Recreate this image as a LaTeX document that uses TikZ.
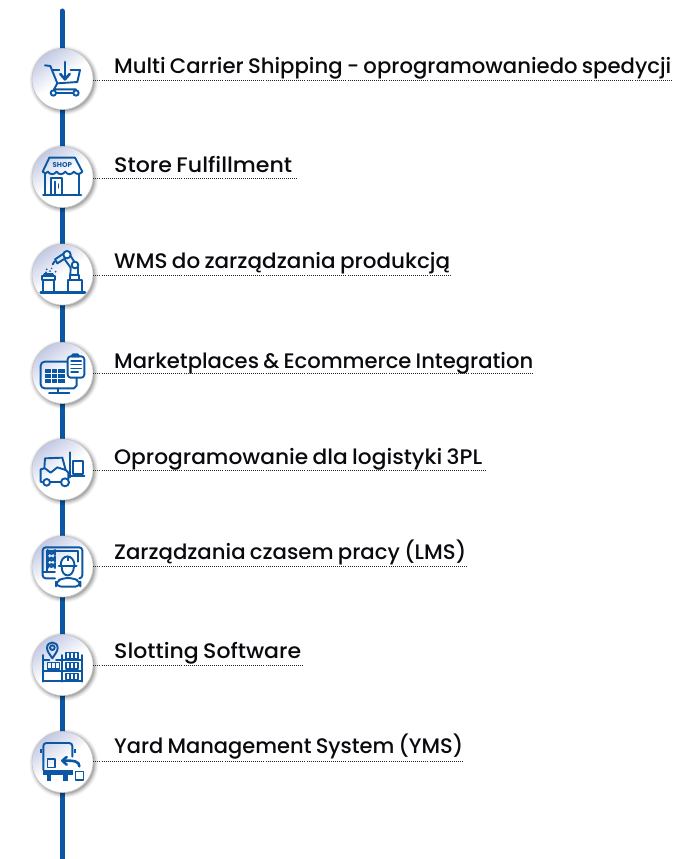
\documentclass[tikz,border=0pt]{standalone}
\usepackage{fontspec}
\usepackage{graphicx}
\setmainfont{Poppins}
\newfontfamily\labfont{Poppins Medium}
\usetikzlibrary{arrows.meta}
\definecolor{bl}{HTML}{0B57A4}
\definecolor{lav}{HTML}{C2C9E4}
\definecolor{ink}{HTML}{0A0A0E}
\newcommand{\lbl}[2]{\resizebox{#1pt}{\height}{\labfont\fontsize{21}{24}\selectfont\spaceskip=.2em\relax #2}}
\tikzset{
  spine/.style={line width=5pt,draw=bl,line cap=round},
  disc/.style={circle,minimum size=61pt,inner sep=0pt,draw=black!22,line width=.6pt,top color=lav,bottom color=white,middle color=white,shading angle=35},
  lab/.style={anchor=base west,inner sep=0pt,text=ink},
  leader/.style={draw=black!85,line width=.9pt,dash pattern=on .9pt off 1.15pt},
  ic/.style={draw=bl,line width=1.9pt,line join=round,line cap=round},
  thick ic/.style={ic,line width=2.6pt},
  thin ic/.style={ic,line width=1.2pt},
  crop/.style={x=.33333pt,y=-.33333pt,yshift=-#1pt},
}
\begin{document}
\begin{tikzpicture}[x=1pt,y=-1pt]
\useasboundingbox (0,0) rectangle (700,859);
\fill[white] (0,0) rectangle (700,859);
\coordinate (top) at (62,11);
\coordinate (bot) at (62,861);
\draw[spine] (top) -- (bot);
% shadows
\foreach \cy in {79,177,274.5,373,469.5,566.5,665,762}{
  \foreach \r/\o in {34.5/.04,33.5/.05,32.5/.07,31.5/.09,30.5/.12}{
    \fill[black,opacity=\o] (64,\cy+1.5) circle[radius=\r];
  }
}
\node[disc] (c1) at (62.5,79) {};
\node[disc] (c2) at (62.5,177) {};
\node[disc] (c3) at (62.5,274.5) {};
\node[disc] (c4) at (62.5,373) {};
\node[disc] (c5) at (62.5,469.5) {};
\node[disc] (c6) at (62.5,566.5) {};
\node[disc] (c7) at (62.5,665) {};
\node[disc] (c8) at (62.5,762) {};
% labels
\node[lab] (t1) at (114,73.5) {\lbl{557}{Multi Carrier Shipping - oprogramowaniedo spedycji}};
\node[lab] (t2) at (114,172.5) {\lbl{178}{Store Fulfillment}};
\node[lab] (t3) at (114,268.5) {\lbl{336}{WMS do zarządzania produkcją}};
\node[lab] (t4) at (114,368.5) {\lbl{419}{Marketplaces \& Ecommerce Integration}};
\node[lab] (t5) at (114,464.5) {\lbl{368}{Oprogramowanie dla logistyki 3PL}};
\node[lab] (t6) at (114,559.5) {\lbl{352}{Zarządzania czasem pracy (LMS)}};
\node[lab] (t7) at (114,658.5) {\lbl{187}{Slotting Software}};
\node[lab] (t8) at (114,753.5) {\lbl{349}{Yard Management System (YMS)}};
% leaders
\coordinate (e1) at (672,80.5);
\coordinate (e2) at (297,178);
\coordinate (e3) at (451,275.7);
\coordinate (e4) at (534,373.7);
\coordinate (e5) at (485,470);
\coordinate (e6) at (467,566.3);
\coordinate (e7) at (304,665);
\coordinate (e8) at (464,761.7);
\foreach \i in {1,...,8}{
  \draw[leader] (c\i.east |- e\i) -- (e\i);
}
% icon 1: cart
\begin{scope}[crop=0]
\draw[ic] (135,196) -- (151,198) -- (172,250) -- (232,246) -- (240,210) -- (212,210);
\draw[ic] (158,210) -- (178,210);
\draw[ic] (172,250) -- (162,268) -- (228,268);
\draw[ic] (160,279) circle[radius=8];
\draw[ic] (228,279) circle[radius=8];
\draw[ic] (168,279) -- (220,279);
\draw[thick ic] (195,186) -- (195,236);
\draw[thick ic] (181,222) -- (195,238) -- (209,222);
\end{scope}
% icon 2: shop
\begin{scope}[crop=0]
\draw[ic] (148,473) -- (225,473) -- (247,515) .. controls (240,524) and (228,524) .. (222,515) .. controls (214,525) and (202,525) .. (196,515) .. controls (188,525) and (176,525) .. (170,515) .. controls (162,525) and (150,525) .. (144,515) .. controls (140,522) and (132,522) .. (128,515) -- cycle;
\node[inner sep=0pt,text=bl] (shop) at (187,494) {\fontsize{7}{8}\selectfont\bfseries SHOP};
\draw[ic] (136,522) -- (136,585);
\draw[ic] (238,522) -- (238,585);
\draw[thick ic] (130,585) -- (243,585);
\draw[ic] (153,585) -- (153,535) -- (187,535) -- (187,585);
\draw[ic] (164,585) -- (164,545) ;
\draw[thin ic] (175,552) -- (175,564);
\end{scope}
% icon 3: robot
\begin{scope}[crop=220]
\draw[thick ic] (122,218) -- (255,218);
\draw[ic] (203,218) -- (203,180) -- (245,180) -- (245,218);
\draw[ic] (209,180) -- (209,165) -- (238,165) -- (238,180);
\draw[ic] (211,165) -- (212,143) -- (194,118);
\draw[ic] (234,165) -- (234,143) -- (212,108);
\draw[ic,fill=white] (225,135) circle[radius=10];
\draw[ic,fill=white] (201,104) circle[radius=11];
\draw[ic] (192,100) -- (165,118) -- (172,130) -- (197,114);
\draw[ic] (163,125) -- (158,133);
\draw[ic] (128,218) -- (128,180) -- (163,180) -- (163,218);
\draw[ic] (126,180) -- (126,168) -- (166,168) -- (166,180);
\draw[thick ic] (133,163) -- (158,163);
\fill[bl] (140,148) circle[radius=3] (150,153) circle[radius=3] (138,157) circle[radius=3] (167,155) circle[radius=3] (155,145) circle[radius=2.5];
\end{scope}
% icon 4: monitor + clipboard
\begin{scope}[crop=220]
\draw[ic,rounded corners=4pt] (203,505) -- (122,505) -- (122,425) -- (205,425);
\fill[bl] (134,447) rectangle (195,490);
\draw[draw=white,line width=.9pt] (134,460) -- (195,460) (134,475) -- (195,475) (153,447) -- (153,490) (173,447) -- (173,490);
\draw[ic] (175,505) -- (175,518);
\draw[ic] (147,519) -- (208,519);
\draw[ic] (230,473) -- (230,497) -- (222,505) -- (203,505);
\draw[ic,rounded corners=3pt,fill=white] (203,409) rectangle (253,473);
\draw[ic,fill=white] (215,409) -- (219,403) -- (233,403) -- (237,409) -- cycle;
\draw[thin ic] (213,423) -- (244,423) (213,434) -- (244,434) (213,445) -- (244,445) (213,456) -- (235,456);
\end{scope}
% icon 5: forklift
\begin{scope}[crop=420]
\draw[ic] (128,187) -- (122,185) -- (122,148) -- (133,145) -- (135,115) -- (187,113) -- (197,150) -- (205,158) -- (205,178);
\draw[ic] (150,187) -- (184,187);
\draw[ic] (135,145) -- (152,158) -- (172,142) -- (197,150);
\draw[ic,fill=white] (140,187) circle[radius=10];
\draw[ic,fill=white] (195,187) circle[radius=12];
\draw[ic] (210,97) -- (210,172);
\draw[ic] (210,169) -- (253,169);
\draw[ic] (219,124) rectangle (250,162);
\end{scope}
% icon 6: operator at screen
\begin{scope}[crop=420]
\draw[ic,rounded corners=3pt] (165,475) -- (128,475) -- (128,382) -- (247,382) -- (247,475) -- (240,475);
\draw[ic] (128,455) -- (165,455);
\draw[ic] (140,455) -- (140,392) -- (235,392) -- (235,425);
\draw[ic,rounded corners=4pt] (143,393) rectangle (165,402);
\draw[ic,rounded corners=4pt] (143,413) rectangle (165,422);
\draw[ic,rounded corners=4pt] (143,432) rectangle (165,441);
\draw[ic,fill=white] (182,437) .. controls (182,400) and (222,400) .. (224,437);
\draw[thick ic] (177,438) -- (229,438);
\draw[ic] (185,440) .. controls (185,475) and (220,475) .. (222,440);
\draw[ic,rounded corners=5pt] (168,500) -- (168,484) -- (190,474) -- (218,474) -- (241,484) -- (241,500) -- cycle;
\fill[bl] (200,408) rectangle (206,422);
\end{scope}
% icon 7: slotting
\begin{scope}[crop=610]
\draw[ic] (157,145) .. controls (150,133) and (141,125) .. (141,114) .. controls (141,92) and (173,92) .. (173,114) .. controls (173,125) and (164,133) .. (157,145) -- cycle;
\draw[ic] (157,113) circle[radius=7];
\draw[ic] (130,135) -- (130,215);
\draw[ic] (187,135) -- (187,215);
\draw[ic] (245,135) -- (245,215);
\draw[ic] (130,150) -- (148,150) (168,150) -- (245,150);
\draw[ic] (130,183) -- (245,183);
\draw[ic] (130,212) -- (245,212);
\foreach \bx/\by in {143/158,198/128,198/158,198/190}{
  \draw[ic,line width=1.4pt] (\bx,\by) rectangle ++(36,19);
  \draw[thin ic] (\bx+12,\by) -- ++(0,19) (\bx+24,\by) -- ++(0,19);
}
\end{scope}
% icon 8: truck
\begin{scope}[crop=610]
\draw[ic,rounded corners=3pt] (130,480) -- (130,399) -- (217,399) -- (217,440);
\fill[bl] (120,417) rectangle (126,428);
\fill[bl] (221,417) rectangle (227,428);
\fill[bl] (128,480) rectangle (218,495);
\fill[bl] (140,495) rectangle (153,512);
\fill[bl] (190,495) rectangle (203,512);
\draw[ic,line width=1.4pt] (143,447) rectangle (165,472);
\draw[ic,line width=1.4pt] (226,485) rectangle (250,510);
\draw[thick ic] (238,469) .. controls (238,455) and (225,451) .. (190,452);
\draw[thick ic] (200,441) -- (187,452) -- (200,464);
\end{scope}
\end{tikzpicture}
\end{document}
